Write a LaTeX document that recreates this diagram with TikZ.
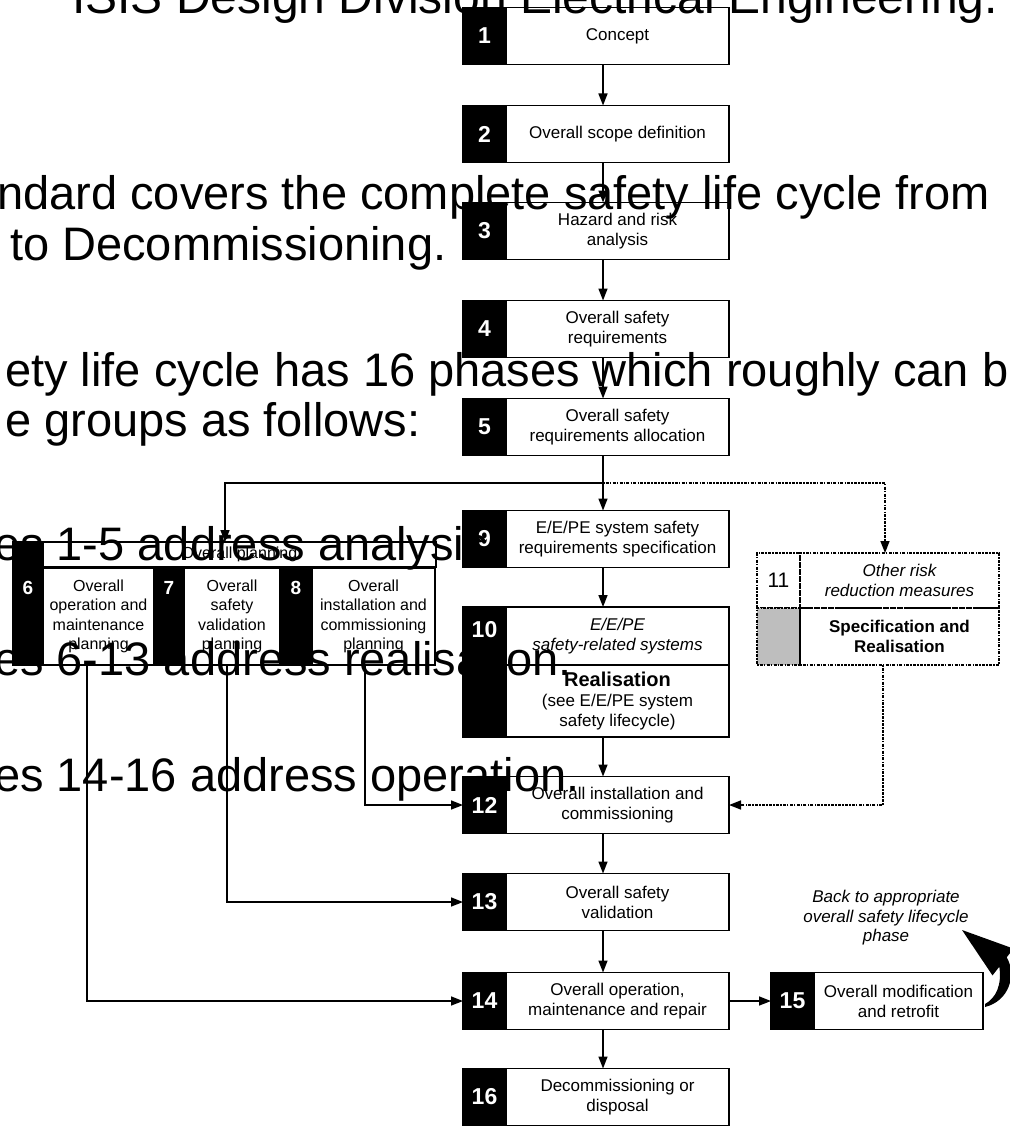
\documentclass[tikz,border=0pt]{standalone}
\usepackage{fontspec}
\setmainfont{Liberation Sans}
\usetikzlibrary{positioning,arrows.meta,calc}
\definecolor{cellgrey}{HTML}{BEBEBE}

\begin{document}
\begin{tikzpicture}[
  x=1pt, y=-1pt,
  >={Triangle[length=12pt,width=9pt]},
  phase/.style={draw, line width=1.6pt, outer sep=0pt, minimum width=223pt, minimum height=57pt, inner sep=2pt, align=center, font=\fontsize{17}{20}\selectfont},
  tab/.style={draw, fill=black, line width=1.6pt, outer sep=0pt, minimum width=43pt, minimum height=57pt, inner sep=0pt, text=white, font=\bfseries\fontsize{23}{26}\selectfont},
  num/.style={text=white, inner sep=0pt, font=\bfseries\fontsize{23}{26}\selectfont},
  sub/.style={phase, minimum height=97pt, inner xsep=1pt, font=\fontsize{16}{19.5}\selectfont},
  subtab/.style={tab, minimum width=30pt, minimum height=97pt},
  cell/.style={draw, line width=1.5pt, outer sep=0pt, align=center, font=\fontsize{17}{20}\selectfont, dash pattern=on 1.5pt off 1.2pt on 3pt off 1.2pt},
  arr/.style={->, line width=1.5pt},
  dotarr/.style={arr, dash pattern=on 1.5pt off 1.2pt on 3pt off 1.2pt},
  note/.style={align=center, font=\itshape\fontsize{17}{19.5}\selectfont},
  slide/.style={anchor=base west, inner sep=0pt, font=\fontsize{47}{52}\selectfont}
]
  \useasboundingbox (0,0) rectangle (1009,1126);

  % main column
  \node[phase] (b1) at (617.5,36) {Concept};
  \node[phase] (b2) at (617.5,134) {Overall scope definition};
  \node[phase] (b3) at (617.5,231) {Hazard and risk\\analysis};
  \node[phase] (b4) at (617.5,329) {Overall safety\\requirements};
  \node[phase] (b5) at (617.5,427) {Overall safety\\requirements allocation};
  \node[phase] (b9) at (617.5,539) {E/E/PE system safety\\requirements specification};
  \node[phase, minimum height=58pt] (b10a) at (617.5,636) {\itshape E/E/PE\\\itshape safety-related systems};
  \node[phase, minimum height=72pt, below=0pt of b10a] (b10b) {{\bfseries\fontsize{20}{22}\selectfont Realisation}\\(see E/E/PE system\\safety lifecycle)};
  \node[phase] (b12) at (617.5,805) {Overall installation and\\commissioning};
  \node[phase] (b13) at (617.5,902) {Overall safety\\validation};
  \node[phase] (b14) at (617.5,1001) {Overall operation,\\maintenance and repair};
  \node[phase] (b16) at (617.5,1097) {Decommissioning or\\disposal};
  \node[phase, minimum width=169pt] (b15) at (898.5,1001) {Overall modification\\and retrofit};

  \foreach \b/\n in {b1/1,b2/2,b3/3,b4/4,b5/5,b9/9,b12/12,b13/13,b14/14,b16/16,b15/15}
    \node[tab, left=0pt of \b] (t\n) {\n};
  \node[tab, minimum height=130pt, anchor=north east,
        label={[num, anchor=north, yshift=-14pt]north:10}] (t10) at (b10a.north west) {};

  % overall planning
  \node[phase, minimum width=393pt, minimum height=25pt, font=\fontsize{16}{19}\selectfont] (hdr) at (239.5,554.5) {Overall planning};
  \node[tab, minimum width=30pt, minimum height=25pt, left=0pt of hdr] (th) {};
  \node[sub, minimum width=111pt] (b6) at (98.5,616.5) {Overall\\operation and\\maintenance\\planning};
  \node[sub, minimum width=96pt] (b7) at (232,616.5) {Overall\\safety\\validation\\planning};
  \node[sub, minimum width=123pt] (b8) at (373.5,616.5) {Overall\\installation and\\commissioning\\planning};
  \foreach \b/\n/\w in {b6/6/30,b7/7/30,b8/8/32}
    \node[subtab, minimum width=\w pt, left=0pt of \b,
          label={[num, anchor=north, yshift=-13pt, font=\bfseries\fontsize{19}{22}\selectfont]north:\n}] (t\n) {};

  % other risk reduction measures
  \node[cell, minimum width=43pt, minimum height=55pt, font=\fontsize{21}{24}\selectfont] (k11) at (778.5,580.5) {11};
  \node[cell, minimum width=199pt, minimum height=55pt, right=0pt of k11, font=\itshape\fontsize{17}{20}\selectfont] (k11a) {Other risk\\reduction measures};
  \node[cell, fill=cellgrey, minimum width=43pt, minimum height=57pt, below=0pt of k11] (k11g) {};
  \node[cell, minimum width=199pt, minimum height=57pt, right=0pt of k11g, font=\bfseries\fontsize{17}{20}\selectfont] (k11b) {Specification and\\Realisation};

  % arrows
  \coordinate (ax) at (603,0);
  \coordinate (br) at (603,483);
  \foreach \a/\b in {b1/b2,b2/b3,b3/b4,b4/b5,b5/b9,b9/b10a,b10b/b12,b12/b13,b13/b14,b14/b16}
    \draw[arr] (\a.south -| ax) -- (\b.north -| ax);
  \draw[arr] (br) -| ([xshift=-14.5pt]hdr.north);
  \draw[dotarr] (br) -| ([xshift=-14.5pt]k11a.north);
  \draw[dotarr] ([xshift=-16.5pt]k11b.south) |- (b12.east);
  \draw[arr] ([xshift=-11.5pt]b6.south) |- (t14.west);
  \draw[arr] ([xshift=-5pt]b7.south) |- (t13.west);
  \draw[arr] ([xshift=-8.5pt]b8.south) |- (t12.west);
  \draw[arr] (b14.east) -- (t15.west);

  % back to lifecycle
  \node[note] (back) at (886,918) {Back to appropriate\\overall safety lifecycle\\phase};
  \fill (985,1004) .. controls (996,998) and (1002,985) .. (999.3,966.7)
    -- (992.5,975.4) -- (962,930) -- (1013.5,948.6) -- (1006.7,957.3)
    .. controls (1017,975) and (1009,1001) .. (985,1007) -- cycle;

  % slide text
  \node[slide, font=\fontsize{48}{52}\selectfont] (ttl) at (72,14) {ISIS Design Division Electrical Engineering.};
  \node[slide] (s1) at (-3,209) {ndard covers the complete safety life cycle from};
  \node[slide] (s2) at (10,260) {to Decommissioning.};
  \node[slide] (s3) at (5,386) {ety life cycle has 16 phases which roughly can b};
  \node[slide] (s4) at (5,436) {e groups as follows:};
  \node[slide] (s5) at (-6,560) {es 1-5 address analysis.};
  \node[slide] (s6) at (-6,675) {es 6-13 address realisation.};
  \node[slide] (s7) at (-6,791) {es 14-16 address operation.};
\end{tikzpicture}
\end{document}
